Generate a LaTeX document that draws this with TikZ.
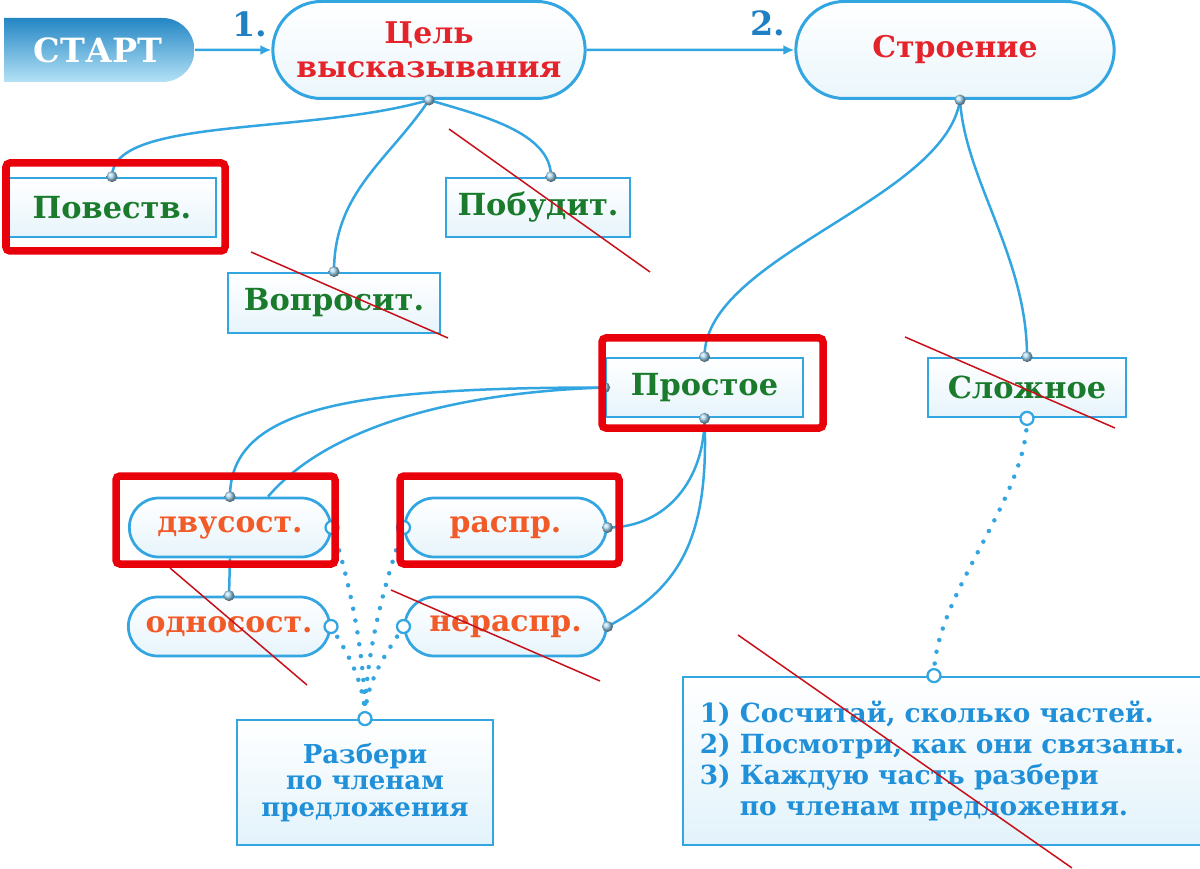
\documentclass[tikz,border=0pt]{standalone}
\usepackage{fontspec}
\setmainfont{DejaVu Serif}
\usetikzlibrary{arrows.meta,shapes.misc}

\definecolor{lineblue}{HTML}{33A6E2}
\definecolor{startblue}{HTML}{2486C4}
\definecolor{startlight}{HTML}{B4E2F6}
\definecolor{headred}{HTML}{E5232B}
\definecolor{leafgreen}{HTML}{1A7B2C}
\definecolor{subred}{HTML}{F25A28}
\definecolor{notetext}{HTML}{2090D8}
\definecolor{numblue}{HTML}{1F80C4}
\definecolor{markred}{HTML}{E8000A}
\definecolor{strikered}{HTML}{C8101A}

\tikzset{
  startbox/.style={rounded rectangle, rounded rectangle left arc=none,
    top color=startblue, middle color=startblue!95, bottom color=startlight,
    text=white, font=\bfseries\fontsize{19}{20}\selectfont,
    minimum width=40.4mm, minimum height=12.8mm},
  bigpill/.style={rounded rectangle, draw=lineblue, line width=0.6mm,
    top color=white, bottom color=lineblue!10, text=headred, align=center,
    font=\bfseries\fontsize{17}{19.5}\selectfont, minimum height=19.4mm},
  pill/.style={rounded rectangle, draw=lineblue, line width=0.55mm,
    top color=white, bottom color=lineblue!12, text=subred,
    font=\bfseries\fontsize{17}{20}\selectfont,
    minimum width=42.6mm, minimum height=11.8mm},
  leafbox/.style={rectangle, draw=lineblue, line width=0.55mm,
    top color=white, bottom color=lineblue!12, text=leafgreen,
    font=\bfseries\fontsize{17.3}{20}\selectfont, minimum height=11.8mm},
  notebox/.style={rectangle, draw=lineblue, line width=0.55mm,
    top color=white, bottom color=lineblue!14, text=notetext},
  numlabel/.style={text=numblue, font=\bfseries\fontsize{19}{20}\selectfont},
  link/.style={draw=lineblue, line width=0.5mm},
  hint/.style={draw=lineblue, line width=0.9mm, line cap=round,
    dash pattern=on 0pt off 2.4mm},
  joint/.style={ball color=lineblue!45},
  port/.style={draw=lineblue, fill=white, line width=0.45mm},
  redframe/.style={draw=markred, line width=1.5mm, rounded corners=0.8mm},
  strike/.style={draw=strikered, line width=0.3mm}
}

\begin{document}
\begin{tikzpicture}[x=0.2mm,y=-0.2mm]
  \useasboundingbox (0,0) rectangle (1200,869);

  % top row
  \node[startbox] (start) at (98,50) {СТАРТ};
  \node[bigpill, minimum width=64.8mm] (cel) at (429,50) {Цель\\высказывания};
  \node[bigpill, minimum width=66mm] (stroe) at (955,50) {Строение};
  \node[numlabel] (one) at (250,24) {1.};
  \node[numlabel] (two) at (768,23) {2.};

  % kinds by purpose
  \node[leafbox, minimum width=41.6mm] (povest) at (112,207.5) {Повеств.};
  \node[leafbox, minimum width=36.8mm] (pobud) at (538,207.5) {Побудит.};
  \node[leafbox, minimum width=42.4mm, minimum height=12mm] (vopros) at (334,303) {Вопросит.};

  % kinds by structure
  \node[leafbox, minimum width=39.4mm] (prost) at (704.5,387.5) {Простое};
  \node[leafbox, minimum width=39.6mm] (slozh) at (1027,387.5) {Сложное};

  \node[pill] (dvus) at (230,527.5) {двусост.};
  \node[pill] (rasp) at (505.5,527.5) {распр.};
  \node[pill] (odno) at (229,626.5) {односост.};
  \node[pill] (nerasp) at (505.5,626.5) {нераспр.};

  % hints
  \node[notebox, minimum width=51.2mm, minimum height=25mm, align=center,
    font=\bfseries\fontsize{14.8}{15.3}\selectfont] (razb) at (365,782.5)
    {Разбери\\по членам\\предложения};
  \node[notebox, minimum width=103.6mm, minimum height=33.6mm, align=left,
    font=\bfseries\fontsize{15}{17.8}\selectfont] (plan) at (942,761)
    {1)~Сосчитай, сколько частей.\\2)~Посмотри, как они связаны.\\3)~Каждую часть разбери\\\phantom{3)~}по членам предложения.};

  \coordinate (stroe-out) at ([xshift=1mm]stroe.south);
  \coordinate (pobud-in) at ([xshift=2.6mm]pobud.north);
  \coordinate (dvus-in) at ([xshift=7.6mm]dvus.north);
  \coordinate (plan-in) at ([xshift=-1.6mm]plan.north);

  % connectors
  \draw[link, -{Latex[length=2.2mm,width=2mm]}] (start) -- (cel);
  \draw[link, -{Latex[length=2.2mm,width=2mm]}] (cel) -- (stroe);

  \draw[link] (cel.south) .. controls +(-120,35) and +(0,-60) .. (povest.north);
  \draw[link] (cel.south) .. controls +(-40,60) and +(0,-80) .. (vopros.north);
  \draw[link] (cel.south) .. controls +(50,15) and +(0,-45) .. (pobud-in);

  \draw[link] (stroe-out) .. controls +(-15,100) and +(0,-100) .. (prost.north);
  \draw[link] (stroe-out) .. controls +(5,80) and +(0,-100) .. (slozh.north);

  \draw[link] (prost.west) .. controls +(-250,0) and +(0,-90) .. (dvus.north);
  \draw[link] (prost.west) .. controls +(-150,5) and +(60,-70) .. (dvus-in);
  \draw[link] (prost.south) .. controls +(0,60) and +(60,0) .. (rasp.east);
  \draw[link] (prost.south) .. controls +(5,123) and +(70,-37) .. (nerasp.east);
  \draw[link] (dvus.south) -- (odno.north);

  \draw[hint] (slozh.south) .. controls +(0,80) and +(0,-80) .. (plan-in);
  \draw[hint] (dvus.east) .. controls +(15,45) and +(0,-70) .. (razb.north);
  \draw[hint] (rasp.west) .. controls +(-15,45) and +(0,-70) .. (razb.north);
  \draw[hint] (odno.east) .. controls +(12,20) and +(0,-40) .. (razb.north);
  \draw[hint] (nerasp.west) .. controls +(-12,20) and +(0,-40) .. (razb.north);

  \foreach \p in {cel.south, stroe-out, povest.north, vopros.north, pobud-in,
      prost.north, prost.south, prost.west, slozh.north, dvus.north,
      odno.north, rasp.east, nerasp.east}
    \shade[joint] (\p) circle (1.1mm);
  \foreach \p in {dvus.east, odno.east, rasp.west, nerasp.west, slozh.south,
      plan-in, razb.north}
    \draw[port] (\p) circle (1.3mm);

  % red marks
  \draw[redframe] (6,163) rectangle (225,251);
  \draw[redframe] (602,338) rectangle (823,428);
  \draw[redframe] (116,476) rectangle (335,564);
  \draw[redframe] (400,476) rectangle (619,564);

  \draw[strike] (449,129) -- (650,272);
  \draw[strike] (251,252) -- (448,338);
  \draw[strike] (905,337) -- (1115,428);
  \draw[strike] (170,568) -- (307,685);
  \draw[strike] (391,590) -- (600,681);
  \draw[strike] (738,635) -- (1072,868);
\end{tikzpicture}
\end{document}
